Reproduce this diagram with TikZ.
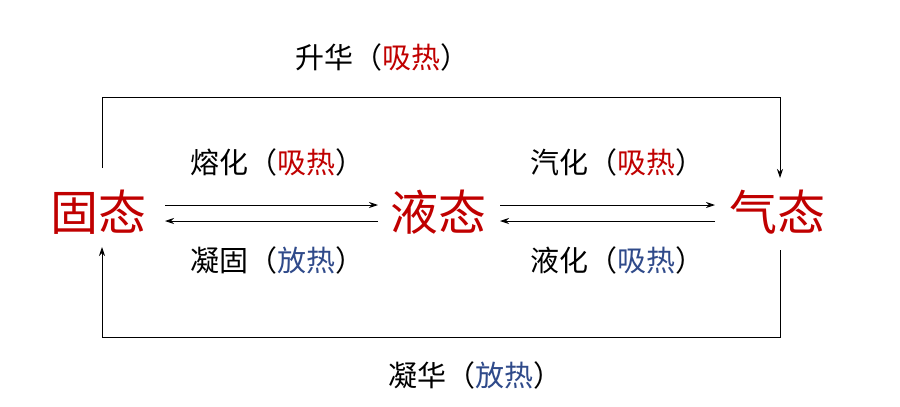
\documentclass[tikz,border=0pt]{standalone}
\usepackage{fontspec}
\newfontfamily\cjk{Noto Sans CJK SC}
\usetikzlibrary{arrows.meta}
\definecolor{dred}{HTML}{C00000}
\definecolor{dblue}{HTML}{2F4A8A}
\begin{document}
\begin{tikzpicture}[x=1pt,y=-1pt,
  state/.style={font=\cjk\fontsize{48}{52}\selectfont,text=dred,inner sep=0pt},
  lbl/.style={font=\cjk\fontsize{29}{32}\selectfont,inner sep=0pt},
  conn/.style={line width=0.9pt,-{Stealth[length=9pt,width=6pt]}}]
\useasboundingbox (0,0) rectangle (900,407);
\node[state] (s) at (98,212) {固态};
\node[state] (l) at (438,212) {液态};
\node[state] (g) at (777,212) {气态};
\coordinate (sT) at (102,168);
\coordinate (sB) at (102,247);
\coordinate (gT) at (780,178);
\coordinate (gB) at (780,250);
\draw[conn] (sT) -- (102,97) -- (780,97) -- (gT);
\draw[conn] (gB) -- (780,337) -- (102,337) -- (sB);
\coordinate (a1) at (165,205); \coordinate (a2) at (378,205);
\coordinate (b1) at (378,221); \coordinate (b2) at (165,221);
\coordinate (c1) at (500,205); \coordinate (c2) at (715,205);
\coordinate (d1) at (715,221); \coordinate (d2) at (500,221);
\draw[conn] (a1) -- (a2);
\draw[conn] (b1) -- (b2);
\draw[conn] (c1) -- (c2);
\draw[conn] (d1) -- (d2);
\node[lbl] (t1) at (382,57) {升华（\textcolor{dred}{吸热}）};
\node[lbl] (t2) at (277,162) {熔化（\textcolor{dred}{吸热}）};
\node[lbl] (t3) at (277,260) {凝固（\textcolor{dblue}{放热}）};
\node[lbl] (t4) at (617,162) {汽化（\textcolor{dred}{吸热}）};
\node[lbl] (t5) at (617,260) {液化（\textcolor{dblue}{吸热}）};
\node[lbl] (t6) at (475,375) {凝华（\textcolor{dblue}{放热}）};
\end{tikzpicture}
\end{document}
